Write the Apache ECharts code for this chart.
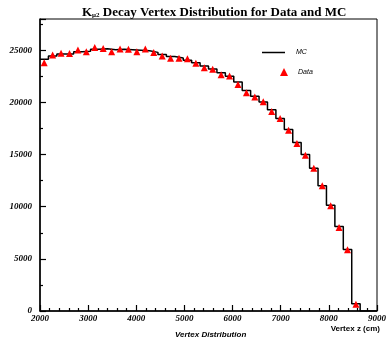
<!DOCTYPE html>
<html>
<head>
<meta charset="utf-8">
<script src="https://cdn.jsdelivr.net/npm/echarts@6/dist/echarts.min.js"></script>
<style>html,body{margin:0;padding:0;background:#fff}#c{width:389px;height:338px}</style>
</head>
<body>
<div id="c"></div>
<script>
// Histogram binning (cm)
const binStart = 2000;
const binWidth = 175;
// MC histogram contents per bin
const mcValues = [24150,24450,24650,24650,24850,24900,25100,25150,25050,25100,
  25050,25000,24950,24800,24600,24400,24250,24050,23800,23500,
  23200,22850,22500,21950,21150,20600,20050,19300,18450,17400,
  16150,15000,13700,12000,10150,8100,5900,700];
// Data per bin
const dataValues = [23800,24550,24710,24680,25030,24870,25260,25160,24870,25130,
  25100,24870,25130,24780,24450,24230,24230,24200,23750,23330,
  23170,22660,22530,21730,20930,20510,20060,19130,18460,17340,
  16060,14940,13680,12020,10100,8010,5870,640];
const xTicks = [2000,3000,4000,5000,6000,7000,8000,9000];
const yTicks = [0,5000,10000,15000,20000,25000];

const mcLine = mcValues.map((v,k)=>[binStart + k*binWidth, v]);
mcLine.push([binStart + mcValues.length*binWidth, 0]);
mcLine.push([xTicks[xTicks.length-1], 0]);
const dataPts = dataValues.map((v,k)=>[binStart + (k+0.5)*binWidth, v]);

const chart = echarts.init(document.getElementById('c'), null, {renderer:'canvas'});
const serifLab = {fontFamily:'Liberation Serif', fontWeight:'bold', fontStyle:'italic', fontSize:9, color:'#000'};
chart.setOption({
  animation:false,
  backgroundColor:'#fff',
  title:[{
    text:'{k|K}{s|μ2}{k| Decay Vertex Distribution for Data and MC}',
    left:82, top:5, padding:0, z:10,
    textStyle:{rich:{
      k:{fontFamily:'Liberation Serif', fontWeight:'bold', fontSize:13, color:'#000', lineHeight:16},
      s:{fontFamily:'Liberation Serif', fontWeight:'bold', fontSize:7, color:'#000', lineHeight:16, padding:[5,0,0,0]}
    }}
  },{
    text:'Vertex Distribution', left:175, top:331, padding:0,
    textStyle:{fontFamily:'Liberation Sans', fontWeight:'bold', fontStyle:'italic', fontSize:8, color:'#000'}
  }],
  legend:[{
    data:[{name:'MC', icon:'rect'}], left:262, top:49, orient:'vertical', padding:0,
    itemWidth:23, itemHeight:1.5, itemGap:4,
    textStyle:{fontFamily:'Liberation Sans', fontStyle:'italic', fontSize:7, color:'#000', padding:[0,0,0,6]}
  },{
    data:[{name:'Data', icon:'triangle'}], left:280, top:68, orient:'vertical', padding:0,
    itemWidth:8, itemHeight:8,
    textStyle:{fontFamily:'Liberation Sans', fontStyle:'italic', fontSize:7, color:'#000', padding:[0,0,0,5]}
  }],
  grid:{left:40, right:8, top:19, bottom:27, show:true, borderColor:'#000', borderWidth:1, backgroundColor:'transparent'},
  xAxis:{
    type:'value', min:xTicks[0], max:xTicks[xTicks.length-1], interval:1000,
    name:'Vertex z (cm)', nameLocation:'end', nameGap:0,
    nameTextStyle:{fontFamily:'Liberation Sans', fontWeight:'bold', fontSize:8, color:'#000', align:'right', verticalAlign:'top', padding:[14,-3,0,0]},
    axisLine:{lineStyle:{color:'#000', width:1.5}},
    axisTick:{inside:true, length:6, lineStyle:{color:'#000', width:1.2}},
    minorTick:{show:true, splitNumber:5, length:3, lineStyle:{color:'#000', width:1.2}},
    axisLabel:Object.assign({margin:3, formatter:v=>xTicks.includes(v)?String(v):''}, serifLab),
    splitLine:{show:false}
  },
  yAxis:{
    type:'value', min:0, max:28000, interval:5000,
    axisLine:{lineStyle:{color:'#000', width:1.5}},
    axisTick:{inside:true, length:6, lineStyle:{color:'#000', width:1.2}},
    minorTick:{show:true, splitNumber:2, length:3, lineStyle:{color:'#000', width:1.2}},
    axisLabel:Object.assign({margin:8, showMaxLabel:false, formatter:v=>yTicks.includes(v)?String(v):''}, serifLab),
    splitLine:{show:false}
  },
  series:[{
    name:'MC', type:'line', step:'end', data:mcLine, showSymbol:false, symbol:'none',
    lineStyle:{color:'#000', width:1.5}, itemStyle:{color:'#000'}, z:2
  },{
    name:'Data', type:'scatter', data:dataPts, symbol:'triangle', symbolSize:7,
    itemStyle:{color:'#ff0000', opacity:1}, z:3
  }]
});
</script>
</body>
</html>
